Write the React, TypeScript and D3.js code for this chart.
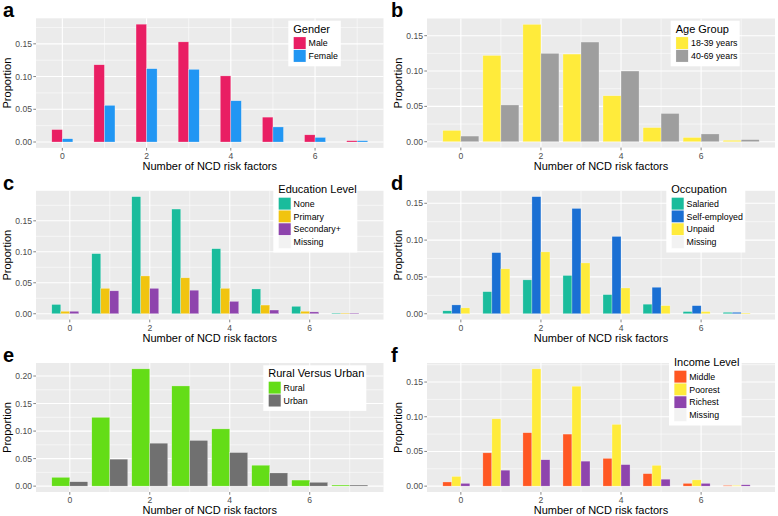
import React from 'react'
import * as d3 from 'd3'

const width = 778
const height = 516
const font = '"Liberation Sans", Arial, Helvetica, sans-serif'

// number of NCD risk factors on the x axis
const riskFactors = [0, 1, 2, 3, 4, 5, 6, 7]

// a: gender
const genderLevels = ['Male', 'Female']
const genderMale = [0.019, 0.118, 0.180, 0.153, 0.101, 0.038, 0.011, 0.002]
const genderFemale = [0.005, 0.056, 0.112, 0.111, 0.063, 0.023, 0.007, 0.002]

// b: age group
const ageLevels = ['18-39 years', '40-69 years']
const age1839 = [0.016, 0.122, 0.166, 0.124, 0.065, 0.020, 0.006, 0.002]
const age4069 = [0.008, 0.052, 0.125, 0.141, 0.100, 0.040, 0.011, 0.003]

// c: education level
const eduLevels = ['None', 'Primary', 'Secondary+', 'Missing']
const eduNone = [0.015, 0.097, 0.189, 0.169, 0.105, 0.040, 0.012, 0.001]
const eduPrimary = [0.004, 0.041, 0.061, 0.058, 0.041, 0.014, 0.004, 0.001]
const eduSecondary = [0.004, 0.037, 0.041, 0.038, 0.020, 0.006, 0.003, 0.001]
const eduMissing = [0, 0, 0, 0, 0, 0, 0, 0]

// d: occupation
const occLevels = ['Salaried', 'Self-employed', 'Unpaid', 'Missing']
const occSalaried = [0.004, 0.030, 0.046, 0.052, 0.026, 0.013, 0.003, 0.002]
const occSelf = [0.012, 0.083, 0.159, 0.143, 0.105, 0.036, 0.011, 0.002]
const occUnpaid = [0.008, 0.061, 0.084, 0.069, 0.035, 0.011, 0.003, 0.001]
const occMissing = [0, 0, 0, 0, 0, 0, 0, 0]

// e: rural vs urban
const areaLevels = ['Rural', 'Urban']
const areaRural = [0.016, 0.125, 0.213, 0.182, 0.104, 0.038, 0.011, 0.002]
const areaUrban = [0.008, 0.049, 0.078, 0.083, 0.061, 0.024, 0.007, 0.002]

// f: income level
const incomeLevels = ['Middle', 'Poorest', 'Richest', 'Missing']
const incMiddle = [0.006, 0.048, 0.077, 0.075, 0.040, 0.018, 0.004, 0.001]
const incPoorest = [0.014, 0.097, 0.169, 0.144, 0.089, 0.030, 0.009, 0.001]
const incRichest = [0.004, 0.023, 0.038, 0.036, 0.031, 0.010, 0.004, 0.002]
const incMissing = [0, 0, 0, 0, 0, 0, 0, 0]

const MISSING = 'none'

const panels = [
  {
    letter: 'a', ox: 0, box: [36, 18.3, 383.5, 147.9], dodge: 0.5,
    title: 'Gender', levels: genderLevels, series: [genderMale, genderFemale],
    colors: ['#E91E63', '#2196F3'], legend: [288.3, 20.7, 52.5],
  },
  {
    letter: 'b', ox: 388, box: [427, 18.5, 775, 147.6], dodge: 0.9,
    title: 'Age Group', levels: ageLevels, series: [age1839, age4069],
    colors: ['#FFEB3B', '#9E9E9E'], legend: [670.7, 20.7, 69],
  },
  {
    letter: 'c', ox: 0, box: [36, 190.8, 383.5, 319.6], dodge: 0.9,
    title: 'Education Level', levels: eduLevels, series: [eduNone, eduPrimary, eduSecondary, eduMissing],
    colors: ['#1ABC9C', '#F1C40F', '#8E44AD', MISSING], legend: [273.3, 181.3, 84],
  },
  {
    letter: 'd', ox: 388, box: [427, 190.8, 775, 319.6], dodge: 0.9,
    title: 'Occupation', levels: occLevels, series: [occSalaried, occSelf, occUnpaid, occMissing],
    colors: ['#1ABC9C', '#1A6FD3', '#FFEB3B', MISSING], legend: [666.3, 181.3, 79],
  },
  {
    letter: 'e', ox: 0, box: [36, 363, 383.5, 492], dodge: 0.9,
    title: 'Rural Versus Urban', levels: areaLevels, series: [areaRural, areaUrban],
    colors: ['#64DD17', '#707070'], legend: [263.3, 365.3, 103],
  },
  {
    letter: 'f', ox: 388, box: [427, 363, 775, 492], dodge: 0.9,
    title: 'Income Level', levels: incomeLevels, series: [incMiddle, incPoorest, incRichest, incMissing],
    colors: ['#FF5722', '#FFEB3B', '#8E44AD', MISSING], legend: [669, 354.3, 72.5],
  },
]

const minorBreaks = (major, domain) => {
  const step = major[1] - major[0]
  const out = []
  major.forEach(m => {
    out.push(m - step / 2)
  })
  out.push(major[major.length - 1] + step / 2)
  return out.filter(v => v > domain[0] && v < domain[1] && !major.includes(v))
}

const Panel = ({ p }) => {
  const [left, top, right, bottom] = p.box
  const half = p.dodge / 2
  const lo = d3.min(riskFactors) - half
  const hi = d3.max(riskFactors) + half
  const padX = (hi - lo) * 0.05
  const xScale = d3.scaleLinear().domain([lo - padX, hi + padX]).range([left, right])

  const maxVal = d3.max(p.series.flat())
  const yScale = d3.scaleLinear().domain([-maxVal * 0.05, maxVal * 1.05]).range([bottom, top])

  const xMajor = xScale.ticks(4)
  const yMajor = yScale.ticks(5)
  const xMinor = minorBreaks(xMajor, xScale.domain())
  const yMinor = minorBreaks(yMajor, yScale.domain())

  const nSlots = p.series.length
  const slot = p.dodge / nSlots
  const slotPx = xScale(slot) - xScale(0)

  const [lx, ly, lw] = p.legend
  const keySize = 12.8
  const legendH = 16 + keySize * p.levels.length + 4
  const midX = (left + right) / 2
  const midY = (top + bottom) / 2

  return (
    <g>
      <text x={p.ox + 3} y={top - 1.3} fontFamily={font} fontWeight="bold" fontSize={20} fill="#000">{p.letter}</text>
      <rect x={left} y={top} width={right - left} height={bottom - top} fill="#EBEBEB" />
      {yMinor.map(v => <line key={'ym' + v} x1={left} x2={right} y1={yScale(v)} y2={yScale(v)} stroke="#fff" strokeWidth={0.55} />)}
      {xMinor.map(v => <line key={'xm' + v} x1={xScale(v)} x2={xScale(v)} y1={top} y2={bottom} stroke="#fff" strokeWidth={0.55} />)}
      {yMajor.map(v => <line key={'yM' + v} x1={left} x2={right} y1={yScale(v)} y2={yScale(v)} stroke="#fff" strokeWidth={1.1} />)}
      {xMajor.map(v => <line key={'xM' + v} x1={xScale(v)} x2={xScale(v)} y1={top} y2={bottom} stroke="#fff" strokeWidth={1.1} />)}

      {p.series.map((vals, si) =>
        p.colors[si] === MISSING ? null :
          vals.map((v, i) => {
            const x0 = xScale(riskFactors[i] - half + si * slot)
            return (
              <rect key={si + '-' + i} x={x0} y={yScale(v)} width={slotPx} height={yScale(0) - yScale(v)}
                fill={p.colors[si]} stroke="#fff" strokeOpacity={0.55} strokeWidth={0.5} />
            )
          })
      )}

      {yMajor.map(v => (
        <g key={'yt' + v}>
          <line x1={left - 2.7} x2={left} y1={yScale(v)} y2={yScale(v)} stroke="#333" strokeWidth={0.6} />
          <text x={left - 4} y={yScale(v)} dy="0.35em" textAnchor="end" fontFamily={font} fontSize={8.6} fill="#4D4D4D">{d3.format('.2f')(v)}</text>
        </g>
      ))}
      {xMajor.map(v => (
        <g key={'xt' + v}>
          <line x1={xScale(v)} x2={xScale(v)} y1={bottom} y2={bottom + 2.7} stroke="#333" strokeWidth={0.6} />
          <text x={xScale(v)} y={bottom + 11} textAnchor="middle" fontFamily={font} fontSize={8.6} fill="#4D4D4D">{v}</text>
        </g>
      ))}
      <text x={midX} y={bottom + 22} textAnchor="middle" fontFamily={font} fontSize={11} fill="#000">Number of NCD risk factors</text>
      <text transform={`translate(${left - 28.5},${midY}) rotate(-90)`} dy="0.35em" textAnchor="middle" fontFamily={font} fontSize={11} fill="#000">Proportion</text>

      <g>
        <rect x={lx} y={ly} width={lw} height={legendH} fill="#fff" />
        <text x={lx + 5} y={ly + 12} fontFamily={font} fontSize={11} fill="#000">{p.title}</text>
        {p.levels.map((lev, i) => {
          const ky = ly + 16 + i * keySize
          return (
            <g key={lev}>
              <rect x={lx + 5} y={ky} width={keySize} height={keySize} fill="#F2F2F2" stroke="#fff" strokeWidth={0.5} />
              {p.colors[i] !== MISSING &&
                <rect x={lx + 5.4} y={ky + 0.4} width={keySize - 0.8} height={keySize - 0.8} fill={p.colors[i]} />}
              <text x={lx + 5 + keySize + 2.5} y={ky + keySize / 2} dy="0.35em" fontFamily={font} fontSize={8.8} fill="#000">{lev}</text>
            </g>
          )
        })}
      </g>
    </g>
  )
}

const App = () => {
  return (
    <svg width={width} height={height} style={{ position: 'absolute', left: 0, top: 0, display: 'block', background: '#fff' }}>
      <rect x={0} y={0} width={width} height={height} fill="#fff" />
      {panels.map(p => <Panel key={p.letter} p={p} />)}
    </svg>
  )
}

export default App
